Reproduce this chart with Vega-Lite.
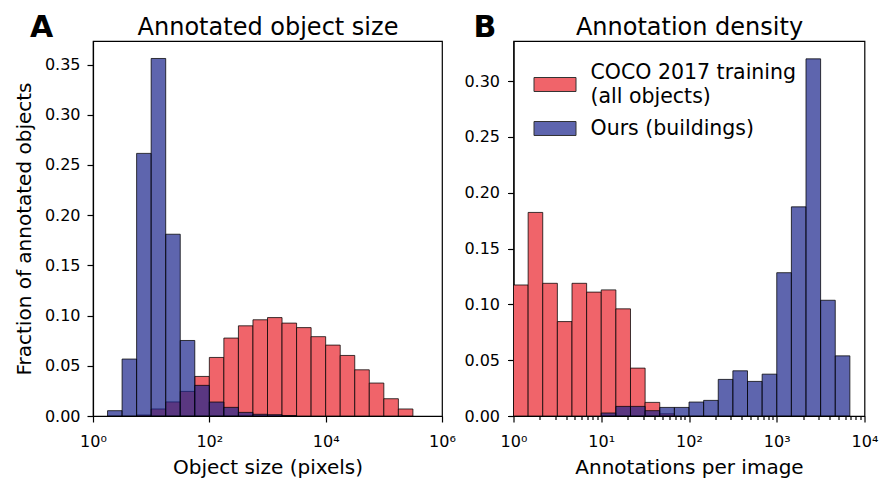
{
  "$schema": "https://vega.github.io/schema/vega-lite/v6.json",
  "padding": {"left": 13, "top": 12, "right": 5, "bottom": 5},
  "background": "white",
  "datasets": {
    "size": [
      {"series": "COCO 2017 training (all objects)", "lo": 5.623, "hi": 10, "frac": 0.001},
      {"series": "COCO 2017 training (all objects)", "lo": 10, "hi": 17.78, "frac": 0.007},
      {"series": "COCO 2017 training (all objects)", "lo": 17.78, "hi": 31.62, "frac": 0.014},
      {"series": "COCO 2017 training (all objects)", "lo": 31.62, "hi": 56.23, "frac": 0.0245},
      {"series": "COCO 2017 training (all objects)", "lo": 56.23, "hi": 100, "frac": 0.0394},
      {"series": "COCO 2017 training (all objects)", "lo": 100, "hi": 177.8, "frac": 0.0583},
      {"series": "COCO 2017 training (all objects)", "lo": 177.8, "hi": 316.2, "frac": 0.0776},
      {"series": "COCO 2017 training (all objects)", "lo": 316.2, "hi": 562.3, "frac": 0.0898},
      {"series": "COCO 2017 training (all objects)", "lo": 562.3, "hi": 1000, "frac": 0.0958},
      {"series": "COCO 2017 training (all objects)", "lo": 1000, "hi": 1778, "frac": 0.098},
      {"series": "COCO 2017 training (all objects)", "lo": 1778, "hi": 3162, "frac": 0.0925},
      {"series": "COCO 2017 training (all objects)", "lo": 3162, "hi": 5623, "frac": 0.088},
      {"series": "COCO 2017 training (all objects)", "lo": 5623, "hi": 10000, "frac": 0.079},
      {"series": "COCO 2017 training (all objects)", "lo": 10000, "hi": 17783, "frac": 0.0706},
      {"series": "COCO 2017 training (all objects)", "lo": 17783, "hi": 31623, "frac": 0.0603},
      {"series": "COCO 2017 training (all objects)", "lo": 31623, "hi": 56234, "frac": 0.046},
      {"series": "COCO 2017 training (all objects)", "lo": 56234, "hi": 100000, "frac": 0.0328},
      {"series": "COCO 2017 training (all objects)", "lo": 100000, "hi": 177828, "frac": 0.0172},
      {"series": "COCO 2017 training (all objects)", "lo": 177828, "hi": 316228, "frac": 0.007},
      {"series": "Ours (buildings)", "lo": 1.778, "hi": 3.162, "frac": 0.0053},
      {"series": "Ours (buildings)", "lo": 3.162, "hi": 5.623, "frac": 0.0567},
      {"series": "Ours (buildings)", "lo": 5.623, "hi": 10, "frac": 0.2615},
      {"series": "Ours (buildings)", "lo": 10, "hi": 17.78, "frac": 0.356},
      {"series": "Ours (buildings)", "lo": 17.78, "hi": 31.62, "frac": 0.181},
      {"series": "Ours (buildings)", "lo": 31.62, "hi": 56.23, "frac": 0.0752},
      {"series": "Ours (buildings)", "lo": 56.23, "hi": 100, "frac": 0.0305},
      {"series": "Ours (buildings)", "lo": 100, "hi": 177.8, "frac": 0.0139},
      {"series": "Ours (buildings)", "lo": 177.8, "hi": 316.2, "frac": 0.0086},
      {"series": "Ours (buildings)", "lo": 316.2, "hi": 562.3, "frac": 0.0036},
      {"series": "Ours (buildings)", "lo": 562.3, "hi": 1000, "frac": 0.0017},
      {"series": "Ours (buildings)", "lo": 1000, "hi": 1778, "frac": 0.0013},
      {"series": "Ours (buildings)", "lo": 1778, "hi": 3162, "frac": 0.0005}
    ],
    "density": [
      {"series": "COCO 2017 training (all objects)", "lo": 1, "hi": 1.468, "frac": 0.1174},
      {"series": "COCO 2017 training (all objects)", "lo": 1.468, "hi": 2.154, "frac": 0.1824},
      {"series": "COCO 2017 training (all objects)", "lo": 2.154, "hi": 3.162, "frac": 0.1189},
      {"series": "COCO 2017 training (all objects)", "lo": 3.162, "hi": 4.642, "frac": 0.0846},
      {"series": "COCO 2017 training (all objects)", "lo": 4.642, "hi": 6.813, "frac": 0.1189},
      {"series": "COCO 2017 training (all objects)", "lo": 6.813, "hi": 10, "frac": 0.111},
      {"series": "COCO 2017 training (all objects)", "lo": 10, "hi": 14.68, "frac": 0.113},
      {"series": "COCO 2017 training (all objects)", "lo": 14.68, "hi": 21.54, "frac": 0.096},
      {"series": "COCO 2017 training (all objects)", "lo": 21.54, "hi": 31.62, "frac": 0.0429},
      {"series": "COCO 2017 training (all objects)", "lo": 31.62, "hi": 46.42, "frac": 0.0122},
      {"series": "COCO 2017 training (all objects)", "lo": 46.42, "hi": 68.13, "frac": 0.002},
      {"series": "Ours (buildings)", "lo": 10, "hi": 14.68, "frac": 0.0027},
      {"series": "Ours (buildings)", "lo": 14.68, "hi": 21.54, "frac": 0.0086},
      {"series": "Ours (buildings)", "lo": 21.54, "hi": 31.62, "frac": 0.0086},
      {"series": "Ours (buildings)", "lo": 31.62, "hi": 46.42, "frac": 0.0048},
      {"series": "Ours (buildings)", "lo": 46.42, "hi": 68.13, "frac": 0.0077},
      {"series": "Ours (buildings)", "lo": 68.13, "hi": 100, "frac": 0.0077},
      {"series": "Ours (buildings)", "lo": 100, "hi": 146.8, "frac": 0.0125},
      {"series": "Ours (buildings)", "lo": 146.8, "hi": 215.4, "frac": 0.014},
      {"series": "Ours (buildings)", "lo": 215.4, "hi": 316.2, "frac": 0.0328},
      {"series": "Ours (buildings)", "lo": 316.2, "hi": 464.2, "frac": 0.0405},
      {"series": "Ours (buildings)", "lo": 464.2, "hi": 681.3, "frac": 0.031},
      {"series": "Ours (buildings)", "lo": 681.3, "hi": 1000, "frac": 0.0375},
      {"series": "Ours (buildings)", "lo": 1000, "hi": 1468, "frac": 0.1284},
      {"series": "Ours (buildings)", "lo": 1468, "hi": 2154, "frac": 0.1874},
      {"series": "Ours (buildings)", "lo": 2154, "hi": 3162, "frac": 0.32},
      {"series": "Ours (buildings)", "lo": 3162, "hi": 4642, "frac": 0.1037},
      {"series": "Ours (buildings)", "lo": 4642, "hi": 6813, "frac": 0.0539}
    ]
  },
  "hconcat": [
    {
      "width": 349,
      "height": 375,
      "data": {"name": "size"},
      "title": {"text": "A", "anchor": "start", "frame": "group", "dx": -63, "dy": 56, "fontSize": 30, "font": "DejaVu Sans", "fontWeight": "bold", "color": "black", "baseline": "alphabetic"},
      "layer": [
        {
          "mark": {"type": "bar", "stroke": "black", "strokeWidth": 1, "strokeOpacity": 0.75},
          "encoding": {
            "x": {"field": "lo", "type": "quantitative", "scale": {"type": "log", "domain": [1, 1000000], "nice": false},
              "axis": {"orient": "bottom", "title": "Object size (pixels)", "values": [1, 100, 10000, 1000000],
                "labelExpr": "'10' + ['⁰','¹','²','³','⁴','⁵','⁶'][round(log(datum.value)/LN10)]",
                "labelPadding": 11, "titlePadding": 8}},
            "x2": {"field": "hi"},
            "y": {"field": "frac", "type": "quantitative", "stack": null, "scale": {"domain": [0, 0.3734], "nice": false},
              "axis": {"title": "Fraction of annotated objects", "values": [0, 0.05, 0.1, 0.15, 0.2, 0.25, 0.3, 0.35], "format": ".2f", "labelPadding": 7, "titlePadding": 10}},
            "y2": {"datum": 0},
            "color": {"field": "series", "type": "nominal",
              "scale": {"domain": ["COCO 2017 training (all objects)", "Ours (buildings)"], "range": ["#f0646a", "rgba(26,36,139,0.7)"]},
              "legend": null}
          }
        },
        {
          "data": {"values": []},
          "mark": "rule",
          "encoding": {
            "x": {"field": "lo", "type": "quantitative",
              "axis": {"orient": "top", "title": "Annotated object size", "labels": false, "ticks": false, "domain": false, "titleFontSize": 24, "titlePadding": 2}}
          }
        }
      ],
      "resolve": {"axis": {"x": "independent"}}
    },
    {
      "width": 351,
      "height": 375,
      "data": {"name": "density"},
      "title": {"text": "B", "anchor": "start", "frame": "group", "dx": -40, "dy": 56, "fontSize": 30, "font": "DejaVu Sans", "fontWeight": "bold", "color": "black", "baseline": "alphabetic"},
      "layer": [
        {
          "mark": {"type": "bar", "stroke": "black", "strokeWidth": 1, "strokeOpacity": 0.75},
          "encoding": {
            "x": {"field": "lo", "type": "quantitative", "scale": {"type": "log", "domain": [1, 10000], "nice": false},
              "axis": {"orient": "bottom", "title": "Annotations per image",
                "values": [1, 2, 3, 4, 5, 6, 7, 8, 9, 10, 20, 30, 40, 50, 60, 70, 80, 90, 100, 200, 300, 400, 500, 600, 700, 800, 900, 1000, 2000, 3000, 4000, 5000, 6000, 7000, 8000, 9000, 10000],
                "labelExpr": "indexof([1,10,100,1000,10000], datum.value) >= 0 ? '10' + ['⁰','¹','²','³','⁴'][round(log(datum.value)/LN10)] : ''",
                "tickSize": {"condition": {"test": "indexof([1,10,100,1000,10000], datum.value) < 0", "value": 3.5}, "value": 6},
                "labelPadding": 11, "titlePadding": 8}},
            "x2": {"field": "hi"},
            "y": {"field": "frac", "type": "quantitative", "stack": null, "scale": {"domain": [0, 0.336], "nice": false},
              "axis": {"title": null, "values": [0, 0.05, 0.1, 0.15, 0.2, 0.25, 0.3], "format": ".2f", "labelPadding": 8}},
            "y2": {"datum": 0},
            "color": {"field": "series", "type": "nominal",
              "scale": {"domain": ["COCO 2017 training (all objects)", "Ours (buildings)"], "range": ["#f0646a", "rgba(26,36,139,0.7)"]},
              "legend": {"orient": "none", "legendX": 20, "legendY": 22, "title": null,
                "symbolType": "M-1,-0.333L1,-0.333L1,0.333L-1,0.333Z", "symbolSize": 1764,
                "symbolStrokeColor": "#333333", "symbolStrokeWidth": 1,
                "labelFont": "DejaVu Sans", "labelFontSize": 20.5, "labelColor": "black", "labelOffset": 14, "labelLimit": 500,
                "rowPadding": -1,
                "labelExpr": "datum.label == 'COCO 2017 training (all objects)' ? ['COCO 2017 training', '(all objects)'] : datum.label",
                "encode": {"labels": {"update": {"lineHeight": {"value": 24}, "dy": {"signal": "datum.index === 0 ? -12 : 0"}}}}}}
          }
        },
        {
          "data": {"values": []},
          "mark": "rule",
          "encoding": {
            "x": {"field": "lo", "type": "quantitative",
              "axis": {"orient": "top", "title": "Annotation density", "labels": false, "ticks": false, "domain": false, "titleFontSize": 24, "titlePadding": 2}}
          }
        }
      ],
      "resolve": {"axis": {"x": "independent"}}
    }
  ],
  "bounds": "flush",
  "spacing": 71.5,
  "resolve": {"scale": {"color": "independent"}, "legend": {"color": "independent"}},
  "config": {
    "font": "DejaVu Sans",
    "view": {"stroke": "black", "strokeWidth": 1.2},
    "axis": {"labelFont": "DejaVu Sans", "titleFont": "DejaVu Sans", "labelFontSize": 16, "titleFontSize": 20, "titleFontWeight": "normal", "labelColor": "black", "titleColor": "black", "domainColor": "black", "tickColor": "black", "domainWidth": 1.2, "tickWidth": 1.2, "tickSize": 6, "grid": false, "labelFlush": false, "labelOverlap": false},
    "title": {"font": "DejaVu Sans", "fontWeight": "normal", "color": "black"}
  }
}
